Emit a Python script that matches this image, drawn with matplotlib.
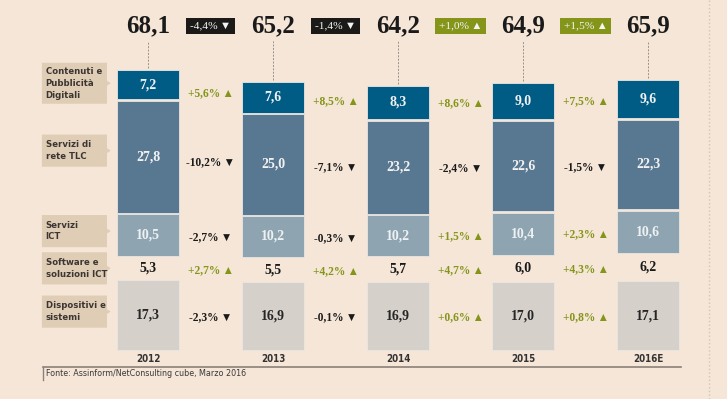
import matplotlib
matplotlib.use("Agg")
import matplotlib.pyplot as plt
from matplotlib.patches import Polygon

# -------------------------------------------------------------------
# DATA (miliardi di euro)
# -------------------------------------------------------------------
years = ["2012", "2013", "2014", "2015", "2016E"]
totals = [68.1, 65.2, 64.2, 64.9, 65.9]
total_chg = ["-4,4%", "-1,4%", "+1,0%", "+1,5%"]

# segments, bottom -> top
seg_names = ["Dispositivi e\nsistemi", "Software e\nsoluzioni ICT",
             "Servizi\nICT", "Servizi di\nrete TLC",
             "Contenuti e\nPubblicità\nDigitali"]
dispositivi = [17.3, 16.9, 16.9, 17.0, 17.1]
software = [5.3, 5.5, 5.7, 6.0, 6.2]
servizi_ict = [10.5, 10.2, 10.2, 10.4, 10.6]
rete_tlc = [27.8, 25.0, 23.2, 22.6, 22.3]
contenuti = [7.2, 7.6, 8.3, 9.0, 9.6]

dispositivi_chg = ["-2,3%", "-0,1%", "+0,6%", "+0,8%"]
software_chg = ["+2,7%", "+4,2%", "+4,7%", "+4,3%"]
servizi_ict_chg = ["-2,7%", "-0,3%", "+1,5%", "+2,3%"]
rete_tlc_chg = ["-10,2%", "-7,1%", "-2,4%", "-1,5%"]
contenuti_chg = ["+5,6%", "+8,5%", "+8,6%", "+7,5%"]

segments = [dispositivi, software, servizi_ict, rete_tlc, contenuti]
seg_chg = [dispositivi_chg, software_chg, servizi_ict_chg, rete_tlc_chg, contenuti_chg]

# -------------------------------------------------------------------
# STYLE
# -------------------------------------------------------------------
BG = "#f5e6d7"
seg_colors = ["#d6d0ca", None, "#8fa4b1", "#587791", "#005b85"]
seg_txt = ["#262626", "#1a1a1a", "#eef1f3", "#f2f2f2", "#f2f2f2"]
POS = "#84951a"
NEG = "#1a1a1a"
LABEL_BOX = "#e0cdb6"
SERIF = ["Liberation Serif", "DejaVu Sans"]
SANS = ["DejaVu Sans"]

GAP = 0.37
WIDTH = 0.496

fig = plt.figure(figsize=(7.27, 3.99), dpi=100, facecolor=BG)
ax = fig.add_axes([0, 0, 1, 1])
ax.set_facecolor(BG)
ax.set_xlim(-1.183, 4.628)
ax.set_ylim(-12.2, 87.1)
ax.axis("off")

x = list(range(len(years)))

# -------------------------------------------------------------------
# STACKED BARS
# -------------------------------------------------------------------
centers = []
bottoms = [0.0] * len(years)
for s, vals in enumerate(segments):
    cs = []
    for i, v in enumerate(vals):
        if seg_colors[s] is not None:
            ax.bar(x[i], v, bottom=bottoms[i], width=WIDTH,
                   color=seg_colors[s], edgecolor="#e9e6e2", linewidth=0.6)
        c = bottoms[i] + v / 2
        cs.append(c)
        ax.text(x[i], c, f"{v:.1f}".replace(".", ","), ha="center", va="center",
                fontsize=10, fontweight="bold", color=seg_txt[s], family=SERIF)
        bottoms[i] += v + GAP
    centers.append(cs)

# change percentages between bars
for s, chg in enumerate(seg_chg):
    for i, lab in enumerate(chg):
        up = lab.startswith("+")
        ax.text(x[i] + 0.5, (centers[s][i] + centers[s][i + 1]) / 2 - 0.4,
                lab + ("\u2009▲" if up else "\u2009▼"), ha="center", va="center",
                fontsize=8.3, fontweight="bold", color=POS if up else NEG,
                family=SERIF)

# -------------------------------------------------------------------
# TOTALS + BADGES
# -------------------------------------------------------------------
TOT_Y = 80.6
for i, t in enumerate(totals):
    ax.text(x[i], TOT_Y, f"{t:.1f}".replace(".", ","), ha="center",
            va="center", fontsize=18, fontweight="bold", color="#1a1a1a",
            family=SERIF)
    ax.plot([x[i], x[i]], [bottoms[i] - GAP + 0.5, TOT_Y - 3.6],
            color="#9a918a", lw=0.7, ls=(0, (2, 1.5)))

for i, lab in enumerate(total_chg):
    up = lab.startswith("+")
    ax.text(x[i] + 0.5, TOT_Y, lab + ("\u2009▲" if up else "\u2009▼"),
            ha="center", va="center", fontsize=8.2, color="#f5f5f5",
            family=SERIF,
            bbox=dict(boxstyle="square,pad=0.32", fc=POS if up else "#1c1a18",
                      ec="none"))

# -------------------------------------------------------------------
# LEFT CATEGORY LABELS
# -------------------------------------------------------------------
label_off = [0.9, 0.0, 1.0, 1.5, 0.4]
box_h = [8.0, 8.0, 8.0, 8.0, 10.2]
bx0, bx1 = -0.848, -0.328
for s, name in enumerate(seg_names):
    cy = centers[s][0] + label_off[s]
    h = box_h[s] / 2
    ax.add_patch(Polygon([(bx0, cy - h), (bx1, cy - h), (bx1, cy - 0.6),
                          (bx1 + 0.03, cy), (bx1, cy + 0.6), (bx1, cy + h),
                          (bx0, cy + h)], closed=True, fc=LABEL_BOX, ec="none"))
    ax.text(bx0 + 0.03, cy, name, ha="left", va="center", fontsize=6.8,
            fontweight="bold", fontstretch="condensed", color="#3b3632",
            family=SANS, linespacing=1.4)

# -------------------------------------------------------------------
# YEARS, BASELINE, SOURCE
# -------------------------------------------------------------------
for i, yr in enumerate(years):
    ax.text(x[i], -2.2, yr, ha="center", va="center", fontsize=7.0,
            fontweight="bold", fontstretch="condensed", color="#333333",
            family=SANS)

ax.plot([-0.839, 4.26], [-4.23, -4.23], color="#8c8178", lw=1.2)
ax.plot([-0.839, -0.839], [-4.23, -7.5], color="#8c8178", lw=1.0)
ax.text(-0.815, -5.9, "Fonte: Assinform/NetConsulting cube, Marzo 2016",
        ha="left", va="center", fontsize=6.4, fontstretch="condensed",
        color="#3a3a3a", family=SANS)

ax.plot([4.485, 4.485], [-12.2, 87.1], color="#cfc6bd", lw=1.0, ls=":")

fig.savefig("out.png", dpi=100, facecolor=BG)
